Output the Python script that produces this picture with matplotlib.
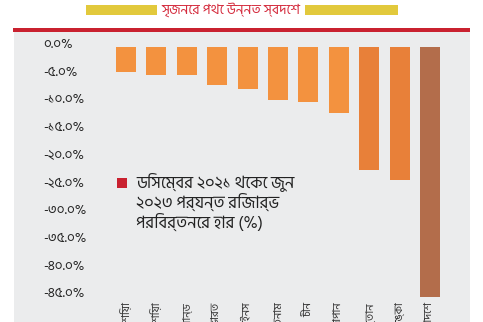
import matplotlib
matplotlib.use('Agg')
import matplotlib.pyplot as plt
from matplotlib.patches import Rectangle
from matplotlib.transforms import ScaledTranslation

plt.rcParams['font.family'] = ['Hind Siliguri', 'Noto Sans Bengali', 'DejaVu Sans']

# ---- data ----
countries = ["ইন্দোনেশিয়া", "মালয়েশিয়া", "থাইল্যান্ড", "ভারত", "ফিলিপাইনস",
             "ভিয়েতনাম", "চীন", "জাপান", "পাকিস্তান", "শ্রীলঙ্কা", "বাংলাদেশ"]
change_pct = [-4.5, -5.1, -5.1, -6.9, -7.6, -9.6, -10.0, -12.0, -22.2, -24.0, -45.1]
ytick_values = [0, -5, -10, -15, -20, -25, -30, -35, -40, -45]
ytick_labels = ["০.০%", "-৫.০%", "-১০.০%", "-১৫.০%", "-২০.০%", "-২৫.০%",
                "-৩০.০%", "-৩৫.০%", "-৪০.০%", "-৪৫.০%"]
title = "সৃজনের পথে উন্নত স্বদেশ"
legend_lines = ["ডিসেম্বর ২০২১ থেকে জুন", "২০২৩ পর্যন্ত রিজার্ভ", "পরিবর্তনের হার (%)"]

bar_colors = ['#f3923f'] * 8 + ['#e88039', '#e88039', '#b36d4b']

W, H = 483, 322
fig = plt.figure(figsize=(W / 100, H / 100), dpi=100)
fig.patch.set_facecolor('white')

def fx(px):
    return px / W

def fy(py):
    return 1 - py / H

grey = '#ebeced'
# grey panel
fig.patches.append(Rectangle((fx(14), 0), fx(470) - fx(14), fy(31), transform=fig.transFigure,
                             facecolor=grey, edgecolor='none', zorder=-5))
# red rule
fig.patches.append(Rectangle((fx(13), fy(32)), fx(470) - fx(13), fy(28) - fy(32), transform=fig.transFigure,
                             facecolor='#c9212f', edgecolor='none', zorder=1))
# yellow bars
for x0, x1 in [(86, 157), (305, 398)]:
    fig.patches.append(Rectangle((fx(x0), fy(15)), fx(x1) - fx(x0), fy(5) - fy(15), transform=fig.transFigure,
                                 facecolor='#e2c93c', edgecolor='none', zorder=1))
fig.text(fx(231), fy(10), title, ha='center', va='center', color='#d42a3c', fontsize=10)

ax = fig.add_axes([fx(107.8), fy(298), fx(448.2) - fx(107.8), fy(32) - fy(298)])
ax.set_zorder(2)
ax.set_facecolor('none')
x = list(range(len(countries)))
ax.bar(x, change_pct, width=0.66, color=bar_colors, zorder=2)
ax.set_xlim(-0.6, 10.6)
ax.set_ylim(-45.3, 2.7)
for s in ax.spines.values():
    s.set_visible(False)
ax.set_yticks(ytick_values)
ax.set_yticklabels(ytick_labels, fontsize=9.8, color='#222222')
ax.tick_params(axis='y', length=0, pad=(107.8 - 43) * 0.72)
off = ScaledTranslation(0, 4 / 100, fig.dpi_scale_trans)
for lab in ax.get_yticklabels():
    lab.set_horizontalalignment('left')
    lab.set_transform(lab.get_transform() + off)
ax.set_xticks(x)
ax.set_xticklabels(countries, rotation=90, fontsize=8, color='#333333', va='top', ha='center')
ax.tick_params(axis='x', length=0, pad=3)

# legend block
fig.patches.append(Rectangle((fx(117), fy(188)), fx(127) - fx(117), fy(178) - fy(188), transform=fig.transFigure,
                             facecolor='#c9212f', edgecolor='none', zorder=3))
for i, line in enumerate(legend_lines):
    fig.text(fx(136), fy(182 + i * 20), line, ha='left', va='center', fontsize=12, color='#222222', zorder=4)

fig.savefig('out.png', dpi=100, facecolor='white')
